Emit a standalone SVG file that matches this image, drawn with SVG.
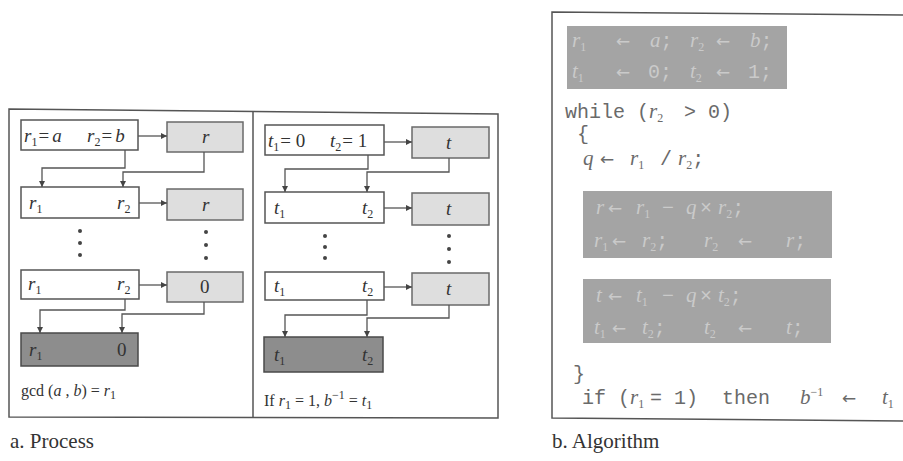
<svg xmlns="http://www.w3.org/2000/svg" width="903" height="461" viewBox="0 0 903 461">
<style>
.t{font-family:"Liberation Serif","Times New Roman",serif;fill:#333}
.bx{font-size:19px}
.i{font-style:italic}
.s{font-size:12px}
.cap{font-size:16px}
.ttl{font-size:21px;fill:#333}
.mono{font-family:"Liberation Mono","Courier New",monospace;font-size:20px;fill:#6a6a6a}
.mono .i{font-family:"Liberation Serif","Times New Roman",serif;font-size:21px}
.mono .s{font-family:"Liberation Serif",serif;font-size:12px}
.mono .ar{font-family:"DejaVu Sans",sans-serif;font-size:17px}
.code-in{fill:#cacaca}
.box{fill:#fff;stroke:#555;stroke-width:1.5}
.lt{fill:#dedede;stroke:#6a6a6a;stroke-width:1.5}
.dk{fill:#8d8d8d;stroke:#4a4a4a;stroke-width:1.5}
.cg{fill:#a4a4a4}
.frame{fill:none;stroke:#555;stroke-width:1.5}
.ln{fill:none;stroke:#555;stroke-width:1.3}
.dot{fill:#444}
</style>
<defs>
<marker id="ah" viewBox="0 0 10 10" refX="10" refY="5" markerWidth="6" markerHeight="6" orient="auto" markerUnits="userSpaceOnUse">
<path d="M0,0 L10,5 L0,10 z" fill="#444"/>
</marker>
</defs>
<rect width="903" height="461" fill="#fff"/>

<g id="panel-a">
<path class="frame" d="M9,109 L498,114 L498,418 L9,417 Z"/>
<line class="frame" x1="253" y1="112" x2="253" y2="418"/>
</g>

<g id="r-init">
<rect class="box" x="21" y="120" width="117" height="30"/>
<text class="t bx" x="24" y="142"><tspan class="i">r</tspan><tspan class="s" dy="4">1</tspan><tspan dy="-4" dx="1">=</tspan><tspan class="i" dx="3">a</tspan></text>
<text class="t bx" x="87" y="142"><tspan class="i">r</tspan><tspan class="s" dy="4">2</tspan><tspan dy="-4" dx="1">=</tspan><tspan class="i" dx="3">b</tspan></text>
</g>
<g id="r-out1">
<rect class="lt" x="167" y="122" width="76" height="30"/>
<text class="t bx i" x="202" y="143">r</text>
</g>
<g id="r-row2">
<rect class="box" x="21" y="187" width="118" height="31"/>
<text class="t bx" x="29" y="209"><tspan class="i">r</tspan><tspan class="s" dy="4">1</tspan></text>
<text class="t bx" x="117" y="209"><tspan class="i">r</tspan><tspan class="s" dy="4">2</tspan></text>
</g>
<g id="r-out2">
<rect class="lt" x="167" y="189" width="76" height="31"/>
<text class="t bx i" x="202" y="211">r</text>
</g>
<g id="r-dots">
<circle class="dot" cx="80" cy="231" r="2"/><circle class="dot" cx="80" cy="243" r="2"/><circle class="dot" cx="80" cy="255" r="2"/>
<circle class="dot" cx="206" cy="232" r="2"/><circle class="dot" cx="206" cy="245" r="2"/><circle class="dot" cx="206" cy="258" r="2"/>
</g>
<g id="r-row3">
<rect class="box" x="21" y="270" width="118" height="29"/>
<text class="t bx" x="28" y="290"><tspan class="i">r</tspan><tspan class="s" dy="4">1</tspan></text>
<text class="t bx" x="117" y="290"><tspan class="i">r</tspan><tspan class="s" dy="4">2</tspan></text>
</g>
<g id="r-out3">
<rect class="lt" x="167" y="272" width="76" height="30"/>
<text class="t bx" x="200" y="293">0</text>
</g>
<g id="r-final">
<rect class="dk" x="21" y="333" width="117" height="33"/>
<text class="t bx" x="29" y="356" fill="#2a2a2a"><tspan class="i">r</tspan><tspan class="s" dy="4">1</tspan></text>
<text class="t bx" x="117" y="356" fill="#2a2a2a">0</text>
</g>
<g id="gcd-caption">
<text class="t cap" x="21" y="396">gcd (<tspan class="i">a</tspan> , <tspan class="i">b</tspan>) = <tspan class="i">r</tspan><tspan class="s" dy="3">1</tspan></text>
</g>

<g id="t-init">
<rect class="box" x="265" y="125" width="119" height="30"/>
<text class="t bx" x="268" y="147"><tspan class="i">t</tspan><tspan class="s" dy="4">1</tspan><tspan dy="-4" dx="1">= 0</tspan></text>
<text class="t bx" x="330" y="147"><tspan class="i">t</tspan><tspan class="s" dy="4">2</tspan><tspan dy="-4" dx="1">= 1</tspan></text>
</g>
<g id="t-out1">
<rect class="lt" x="412" y="127" width="77" height="31"/>
<text class="t bx i" x="446" y="149">t</text>
</g>
<g id="t-row2">
<rect class="box" x="265" y="192" width="119" height="31"/>
<text class="t bx" x="274" y="214"><tspan class="i">t</tspan><tspan class="s" dy="4">1</tspan></text>
<text class="t bx" x="362" y="214"><tspan class="i">t</tspan><tspan class="s" dy="4">2</tspan></text>
</g>
<g id="t-out2">
<rect class="lt" x="412" y="193" width="77" height="32"/>
<text class="t bx i" x="446" y="215">t</text>
</g>
<g id="t-dots">
<circle class="dot" cx="325" cy="236" r="2"/><circle class="dot" cx="325" cy="247" r="2"/><circle class="dot" cx="325" cy="258" r="2"/>
<circle class="dot" cx="449" cy="236" r="2"/><circle class="dot" cx="449" cy="249" r="2"/><circle class="dot" cx="449" cy="262" r="2"/>
</g>
<g id="t-row3">
<rect class="box" x="265" y="272" width="119" height="28"/>
<text class="t bx" x="274" y="292"><tspan class="i">t</tspan><tspan class="s" dy="4">1</tspan></text>
<text class="t bx" x="362" y="292"><tspan class="i">t</tspan><tspan class="s" dy="4">2</tspan></text>
</g>
<g id="t-out3">
<rect class="lt" x="412" y="273" width="77" height="32"/>
<text class="t bx i" x="446" y="295">t</text>
</g>
<g id="t-final">
<rect class="dk" x="264" y="337" width="119" height="35"/>
<text class="t bx" x="274" y="361" fill="#2a2a2a"><tspan class="i">t</tspan><tspan class="s" dy="4">1</tspan></text>
<text class="t bx" x="362" y="361" fill="#2a2a2a"><tspan class="i">t</tspan><tspan class="s" dy="4">2</tspan></text>
</g>
<g id="inv-caption">
<text class="t cap" x="264" y="406">If <tspan class="i">r</tspan><tspan class="s" dy="3">1</tspan><tspan dy="-3"> = 1,  </tspan><tspan class="i">b</tspan><tspan class="s" dy="-7">−1</tspan><tspan dy="7"> = </tspan><tspan class="i">t</tspan><tspan class="s" dy="3">1</tspan></text>
</g>

<g id="connectors">
<line class="ln" x1="138" y1="136" x2="167" y2="136" marker-end="url(#ah)"/>
<line class="ln" x1="139" y1="203" x2="167" y2="203" marker-end="url(#ah)"/>
<line class="ln" x1="139" y1="285" x2="167" y2="285" marker-end="url(#ah)"/>
<path class="ln" d="M125,150 V168 H42 V187" marker-end="url(#ah)"/>
<path class="ln" d="M204,152 V172 H123 V187" marker-end="url(#ah)"/>
<path class="ln" d="M125,299 V310 H40 V333" marker-end="url(#ah)"/>
<path class="ln" d="M204,302 V314 H122 V333" marker-end="url(#ah)"/>
<line class="ln" x1="384" y1="142" x2="412" y2="142" marker-end="url(#ah)"/>
<line class="ln" x1="384" y1="208" x2="412" y2="208" marker-end="url(#ah)"/>
<line class="ln" x1="384" y1="287" x2="412" y2="287" marker-end="url(#ah)"/>
<path class="ln" d="M368,155 V169 H285 V192" marker-end="url(#ah)"/>
<path class="ln" d="M449,158 V172 H367 V192" marker-end="url(#ah)"/>
<path class="ln" d="M367,300 V315 H285 V337" marker-end="url(#ah)"/>
<path class="ln" d="M449,305 V318 H367 V337" marker-end="url(#ah)"/>
</g>

<g id="caption-a">
<text class="t ttl" x="10" y="448">a. Process</text>
</g>

<g id="panel-b">
<path class="frame" d="M905,15 L552,12 L552,418 L905,421"/>
</g>
<g id="code-init">
<rect class="cg" x="567" y="26" width="220" height="63"/>
<text class="mono code-in" y="47"><tspan x="572" class="i">r</tspan><tspan class="s" dy="4">1</tspan><tspan dy="-4" x="616" class="ar">←</tspan><tspan x="650" class="i">a</tspan><tspan>;</tspan><tspan x="690" class="i">r</tspan><tspan class="s" dy="4">2</tspan><tspan dy="-4" x="716" class="ar">←</tspan><tspan x="750" class="i">b</tspan><tspan>;</tspan></text>
<text class="mono code-in" y="78"><tspan x="572" class="i">t</tspan><tspan class="s" dy="4">1</tspan><tspan dy="-4" x="616" class="ar">←</tspan><tspan x="648">0;</tspan><tspan x="690" class="i">t</tspan><tspan class="s" dy="4">2</tspan><tspan dy="-4" x="716" class="ar">←</tspan><tspan x="748">1;</tspan></text>
</g>
<g id="code-while">
<text class="mono" y="118"><tspan x="565">while (</tspan><tspan class="i">r</tspan><tspan class="s" dy="4">2</tspan><tspan dy="-4" x="684">&gt;</tspan><tspan x="708">0)</tspan></text>
<text class="mono" x="577" y="140">{</text>
<text class="mono" y="165"><tspan x="583" class="i">q</tspan><tspan x="600" class="ar">←</tspan><tspan x="630" class="i">r</tspan><tspan class="s" dy="4">1</tspan><tspan dy="-4" x="660">/</tspan><tspan x="678" class="i">r</tspan><tspan class="s" dy="4">2</tspan><tspan dy="-4">;</tspan></text>
</g>
<g id="code-r-update">
<rect class="cg" x="583" y="191" width="249" height="67"/>
<text class="mono code-in" y="214"><tspan x="596" class="i">r</tspan><tspan x="608" class="ar">←</tspan><tspan x="636" class="i">r</tspan><tspan class="s" dy="4">1</tspan><tspan dy="-4" x="662">−</tspan><tspan x="686" class="i">q</tspan><tspan x="700">×</tspan><tspan x="718" class="i">r</tspan><tspan class="s" dy="4">2</tspan><tspan dy="-4">;</tspan></text>
<text class="mono code-in" y="247"><tspan x="594" class="i">r</tspan><tspan class="s" dy="4">1</tspan><tspan dy="-4" x="612" class="ar">←</tspan><tspan x="642" class="i">r</tspan><tspan class="s" dy="4">2</tspan><tspan dy="-4">;</tspan><tspan x="704" class="i">r</tspan><tspan class="s" dy="4">2</tspan><tspan dy="-4" x="738" class="ar">←</tspan><tspan x="786" class="i">r</tspan><tspan>;</tspan></text>
</g>
<g id="code-t-update">
<rect class="cg" x="583" y="279" width="248" height="64"/>
<text class="mono code-in" y="302"><tspan x="596" class="i">t</tspan><tspan x="608" class="ar">←</tspan><tspan x="636" class="i">t</tspan><tspan class="s" dy="4">1</tspan><tspan dy="-4" x="662">−</tspan><tspan x="686" class="i">q</tspan><tspan x="700">×</tspan><tspan x="718" class="i">t</tspan><tspan class="s" dy="4">2</tspan><tspan dy="-4">;</tspan></text>
<text class="mono code-in" y="334"><tspan x="594" class="i">t</tspan><tspan class="s" dy="4">1</tspan><tspan dy="-4" x="612" class="ar">←</tspan><tspan x="642" class="i">t</tspan><tspan class="s" dy="4">2</tspan><tspan dy="-4">;</tspan><tspan x="704" class="i">t</tspan><tspan class="s" dy="4">2</tspan><tspan dy="-4" x="738" class="ar">←</tspan><tspan x="786" class="i">t</tspan><tspan>;</tspan></text>
</g>
<g id="code-end">
<text class="mono" x="573" y="380">}</text>
<text class="mono" y="404"><tspan x="582">if (</tspan><tspan class="i">r</tspan><tspan class="s" dy="4">1</tspan><tspan dy="-4" x="650">= 1)</tspan><tspan x="722">then</tspan><tspan x="800" class="i">b</tspan><tspan class="s" dy="-8">−1</tspan><tspan dy="8" x="842" class="ar">←</tspan><tspan x="882" class="i">t</tspan><tspan class="s" dy="4">1</tspan></text>
</g>
<g id="caption-b">
<text class="t ttl" x="552" y="448">b. Algorithm</text>
</g>
</svg>
